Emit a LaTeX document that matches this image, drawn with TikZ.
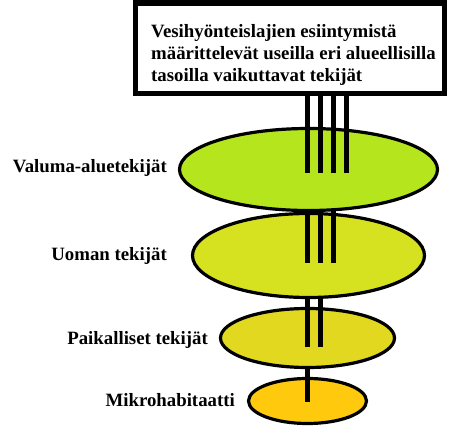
\documentclass[tikz,border=0pt]{standalone}
\usepackage{fontspec}
\setmainfont{Liberation Serif}
\usetikzlibrary{shapes.geometric}
\definecolor{lvA}{RGB}{181,230,29}
\definecolor{lvB}{RGB}{214,226,31}
\definecolor{lvC}{RGB}{227,216,32}
\definecolor{lvD}{RGB}{255,201,14}
\begin{document}
\begin{tikzpicture}[x=1pt,y=-1pt,
  lbl/.style={font=\bfseries\fontsize{18.8}{21.9}\selectfont, inner sep=0pt, anchor=base east},
  disc/.style={draw=black, line width=3.2pt},
  bar/.style={line width=5pt, black}]
\useasboundingbox (0,0) rectangle (451,442);
% box
\draw[line width=5.5pt, fill=white] (135.7,3.2) rectangle (444.3,93.6);
\node[font=\bfseries\fontsize{18.8}{21.9}\selectfont, inner sep=0pt, anchor=north west, align=left] (title) at (151,24.4)
  {Vesihyönteislajien esiintymistä\\määrittelevät useilla eri alueellisilla\\tasoilla vaikuttavat tekijät};
% level 4
\draw[disc, fill=lvD] (307.5,401) ellipse [x radius=59, y radius=22.5];
\draw[bar] (307.5,340) -- (307.5,402);
% level 3
\draw[disc, fill=lvC] (307.5,338) ellipse [x radius=87, y radius=29.5];
\draw[bar] (307.5,255) -- (307.5,347);
\draw[bar] (320.5,255) -- (320.5,347);
% level 2
\draw[disc, fill=lvB] (308.5,255.5) ellipse [x radius=116, y radius=42];
\draw[bar] (307.5,170) -- (307.5,263);
\draw[bar] (320.5,170) -- (320.5,263);
\draw[bar] (333.5,170) -- (333.5,263);
% level 1
\draw[disc, fill=lvA] (308.5,169.5) ellipse [x radius=129, y radius=41];
\draw[bar] (307.5,96) -- (307.5,173);
\draw[bar] (320.5,96) -- (320.5,173);
\draw[bar] (333.5,96) -- (333.5,173);
\draw[bar] (346.5,96) -- (346.5,173);
% labels
\node[lbl] (l1) at (167,172) {Valuma-aluetekijät};
\node[lbl] (l2) at (167,260.7) {Uoman tekijät};
\node[lbl] (l3) at (208,344) {Paikalliset tekijät};
\node[lbl] (l4) at (235,406) {Mikrohabitaatti};
\end{tikzpicture}
\end{document}
